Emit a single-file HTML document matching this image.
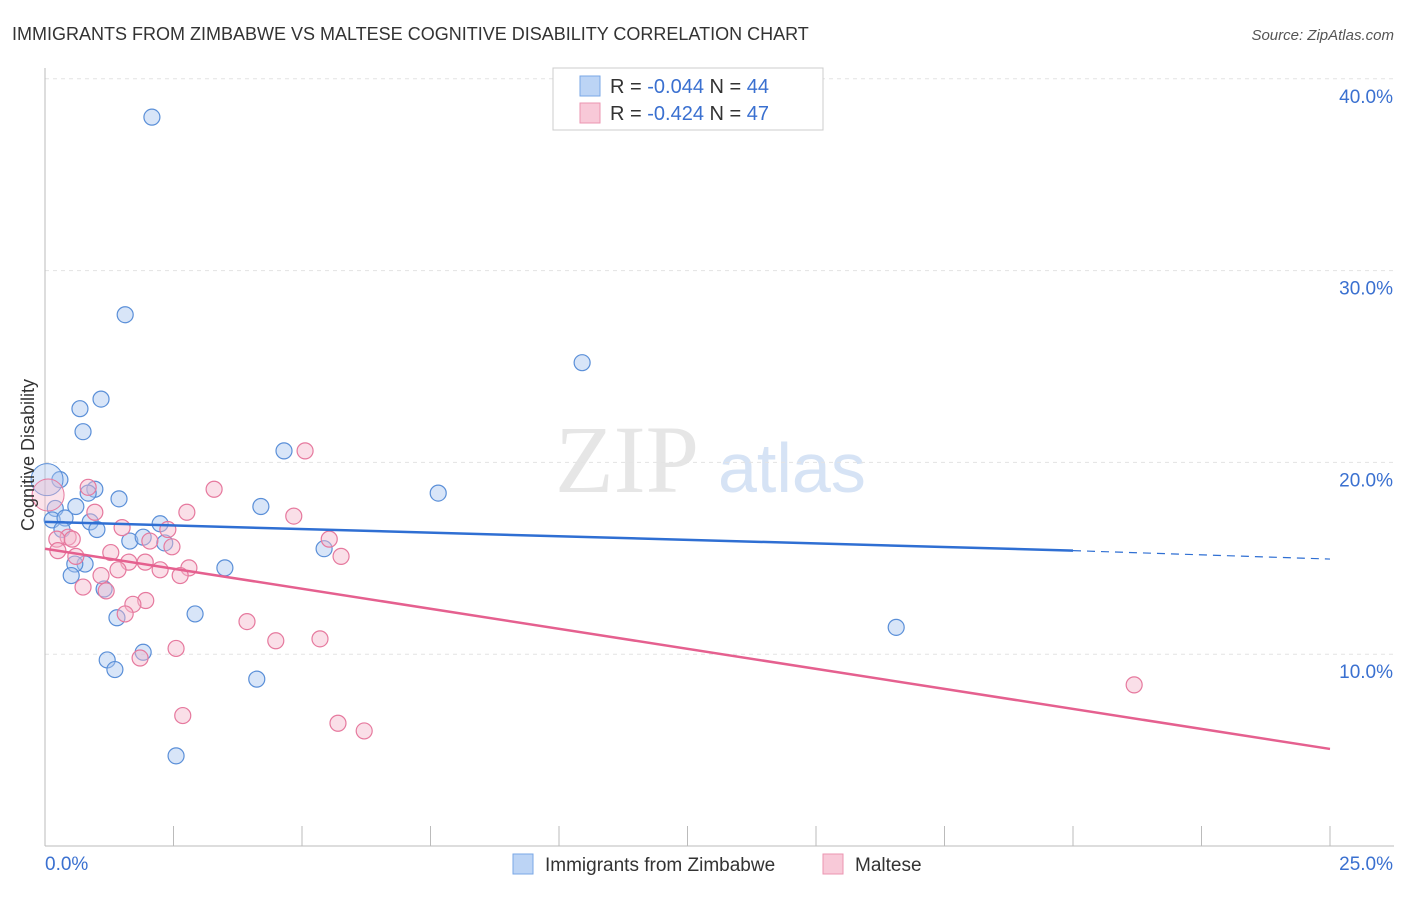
<!DOCTYPE html>
<html><head><meta charset="utf-8"><style>
body{margin:0;background:#fff;font-family:"Liberation Sans",sans-serif}
</style></head><body>
<svg width="1406" height="892" id="chart">
<text x="12" y="40" font-size="18" fill="#333">IMMIGRANTS FROM ZIMBABWE VS MALTESE COGNITIVE DISABILITY CORRELATION CHART</text>
<text x="1394" y="40" font-size="15" fill="#555" text-anchor="end" font-style="italic">Source: ZipAtlas.com</text>
<text x="555" y="492" font-size="96" fill="#e6e6e6" font-family="Liberation Serif">ZIP</text>
<text x="718" y="492" font-size="70" fill="#d6e3f5">atlas</text>
<g id="grid"></g><g id="axes"></g><g id="marks"></g>
<text transform="translate(34,455) rotate(-90)" font-size="18" fill="#333" text-anchor="middle">Cognitive Disability</text>
<g>
<rect x="553" y="68" width="270" height="62" fill="#fff" stroke="#ccc"/>
<rect x="580" y="76" width="20" height="20" fill="#bcd4f5" stroke="#7aa7e6"/>
<text x="610" y="93" font-size="20" fill="#333">R = <tspan fill="#3a70d0">-0.044</tspan>   N = <tspan fill="#3a70d0">44</tspan></text>
<rect x="580" y="103" width="20" height="20" fill="#f8c9d8" stroke="#eb95b1"/>
<text x="610" y="120" font-size="20" fill="#333">R = <tspan fill="#3a70d0">-0.424</tspan>   N = <tspan fill="#3a70d0">47</tspan></text>
</g>
<g>
<rect x="513" y="854" width="20" height="20" fill="#bcd4f5" stroke="#7aa7e6"/>
<text x="545" y="871" font-size="19" fill="#333">Immigrants from Zimbabwe</text>
<rect x="823" y="854" width="20" height="20" fill="#f8c9d8" stroke="#eb95b1"/>
<text x="855" y="871" font-size="19" fill="#333">Maltese</text>
</g>
</svg>
<script>
const blueX=[2.08,1.56,10.45,1.09,0.68,0.74,4.65,7.65,0.29,0.97,0.84,1.44,4.2,0.2,0.6,0.14,0.39,0.88,1.01,2.24,0.33,1.65,1.91,2.33,5.43,0.78,0.58,0.51,3.5,1.15,2.92,1.4,16.56,1.91,1.21,1.36,4.12,2.55];
const blueY=[38.0,27.7,25.2,23.3,22.8,21.6,20.6,18.4,19.1,18.6,18.4,18.1,17.7,17.6,17.7,17.0,17.1,16.9,16.5,16.8,16.5,15.9,16.1,15.8,15.5,14.7,14.7,14.1,14.5,13.4,12.1,11.9,11.4,10.1,9.7,9.2,8.7,4.7];
const pinkX=[5.06,3.29,0.84,2.76,0.97,4.84,1.5,2.39,0.45,0.23,5.53,2.04,2.47,0.53,0.25,1.28,0.6,5.76,1.95,1.63,2.8,1.42,2.24,2.63,1.09,0.74,1.19,1.96,1.71,1.56,3.93,4.49,5.35,2.55,1.85,21.19,2.68,5.7,6.21];
const pinkY=[20.6,18.6,18.7,17.4,17.4,17.2,16.6,16.5,16.1,16.0,16.0,15.9,15.6,16.0,15.4,15.3,15.1,15.1,14.8,14.8,14.5,14.4,14.4,14.1,14.1,13.5,13.3,12.8,12.6,12.1,11.7,10.7,10.8,10.3,9.8,8.4,6.8,6.4,6.0];
const yTicks=[10,20,30,40];
const blueTrend=[16.9,15.4,14.96];
const pinkTrend=[15.5,5.06];
const X=v=>45+v*51.4, Y=v=>846-v*19.18;
const NS="http://www.w3.org/2000/svg";
function mk(t,a,p){const e=document.createElementNS(NS,t);for(const k in a)e.setAttribute(k,a[k]);document.getElementById(p).appendChild(e);return e;}
yTicks.forEach(t=>{
 const g=mk('line',{x1:45,x2:1394,y1:Y(t),y2:Y(t),stroke:'#e3e3e3','stroke-dasharray':'4,4'},'grid');
 
 
 const l=mk('text',{x:1393,y:Y(t)+24,'font-size':19,fill:'#3a70d0','text-anchor':'end'},'axes');l.textContent=t.toFixed(1)+'%';
 
 
});
let ax=mk('line',{x1:45,x2:45,y1:68,y2:846,stroke:'#bbb'},'axes');


ax=mk('line',{x1:45,x2:1394,y1:846,y2:846,stroke:'#bbb'},'axes');


for(let i=0;i<=10;i++){const t=mk('line',{x1:X(i*2.5),x2:X(i*2.5),y1:826,y2:846,stroke:'#bbb'},'axes');
 
 }
[[0,'0.0%',45,'start'],[25,'25.0%',1393,'end']].forEach(d=>{const l=mk('text',{x:d[2],y:870,'font-size':19,fill:'#3a70d0','text-anchor':d[3]},'axes');l.textContent=d[1];
 
 });
function dots(xs,ys,fill,stroke,name){xs.forEach((x,i)=>{const c=mk('circle',{cx:X(x),cy:Y(ys[i]),r:8,fill:fill,'fill-opacity':0.45,stroke:stroke,'stroke-width':1.2},'marks');
 
 });}
dots(blueX,blueY,'#a9c6f0','#5a8fd8','zimbabwe-point');
dots(pinkX,pinkY,'#f5b8cc','#e6799e','maltese-point');
let b=mk('circle',{cx:X(0.04),cy:Y(19.1),r:16,fill:'#a9c6f0','fill-opacity':0.4,stroke:'#5a8fd8'},'marks');


b=mk('circle',{cx:X(0.06),cy:Y(18.3),r:16,fill:'#f5b8cc','fill-opacity':0.4,stroke:'#e6799e'},'marks');


let tl=mk('line',{x1:X(0),y1:Y(blueTrend[0]),x2:X(20),y2:Y(blueTrend[1]),stroke:'#2f6fd3','stroke-width':2.5},'marks');


tl=mk('line',{x1:X(20),y1:Y(blueTrend[1]),x2:X(25),y2:Y(blueTrend[2]),stroke:'#2f6fd3','stroke-width':1.2,'stroke-dasharray':'8,6'},'marks');


tl=mk('line',{x1:X(0),y1:Y(pinkTrend[0]),x2:X(25),y2:Y(pinkTrend[1]),stroke:'#e5608f','stroke-width':2.5},'marks');


</script>
</body></html>
